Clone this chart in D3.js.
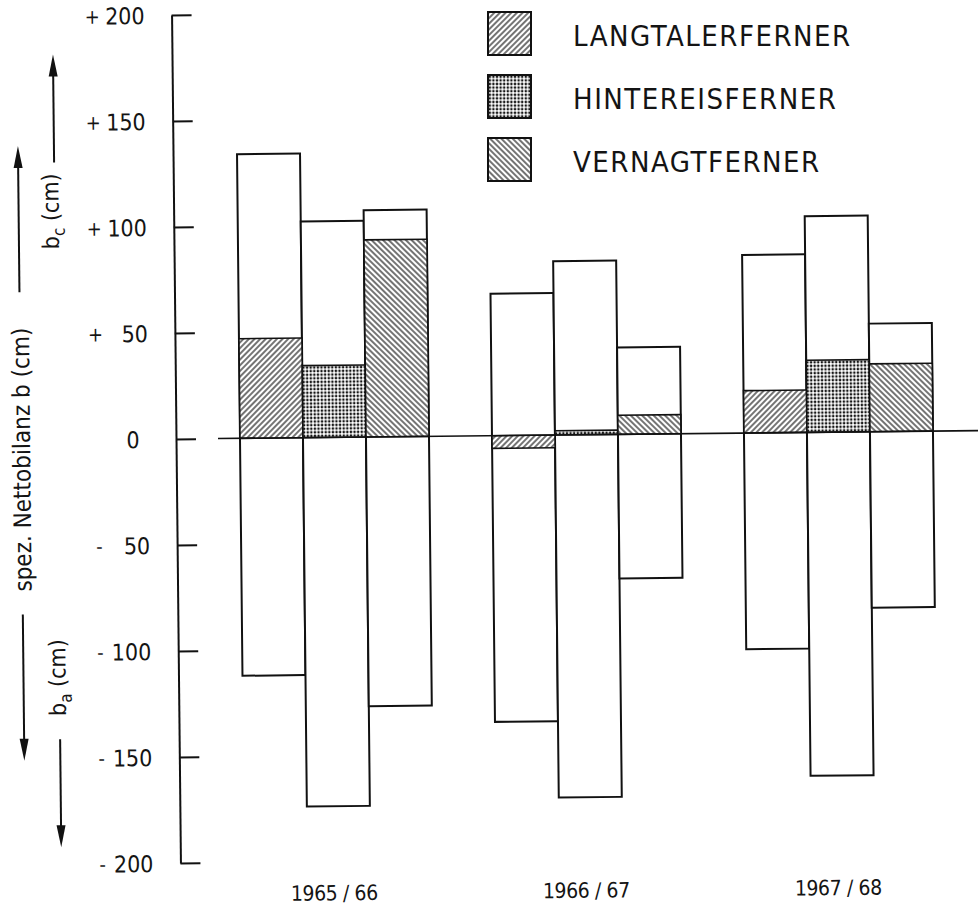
<!DOCTYPE html>
<html>
<head>
<meta charset="utf-8">
<script src="https://cdn.jsdelivr.net/npm/d3@7"></script>
<style>
  body { margin: 0; background: #fff; }
  text { font-family: "DejaVu Sans Condensed", "DejaVu Sans", sans-serif; fill: #141414; }
</style>
</head>
<body>
<div id="chart"></div>
<script>
// data (cm)
const years = ["1965 / 66", "1966 / 67", "1967 / 68"];
const glaciers = ["LANGTALERFERNER", "HINTEREISFERNER", "VERNAGTFERNER"];
// b_c, b_a and net balance b: one row per year, one column per glacier
const bc = [[134, 102, 107], [67, 82, 41], [84, 102, 51]];
const ba = [[-112, -174, -127], [-135, -171, -68], [-102, -162, -83]];
const bNet = [[47, 34, 93], [-6, 2, 9], [20, 34, 32]];
const yTicks = [200, 150, 100, 50, 0, -50, -100, -150, -200];

const rows = years.flatMap((yr, i) => glaciers.map((g, j) => ({
    year: yr, glacier: g, bc: bc[i][j], ba: ba[i][j], b: bNet[i][j]
})));

const svg = d3.select("#chart").append("svg")
    .attr("width", 978)
    .attr("height", 908);

// fill patterns
const defs = svg.append("defs");
const patId = d3.scaleOrdinal().domain(glaciers).range(["hatchL", "dotsH", "hatchV"]);

[["hatchL", 45], ["hatchV", -45]].forEach(([id, angle]) => {
    const p = defs.append("pattern")
        .attr("id", id)
        .attr("patternUnits", "userSpaceOnUse")
        .attr("width", 4).attr("height", 4)
        .attr("patternTransform", `rotate(${angle})`);
    p.append("rect").attr("width", 4).attr("height", 4).attr("fill", "#fff");
    p.append("line").attr("x1", 1).attr("x2", 1).attr("y1", 0).attr("y2", 4)
        .attr("stroke", "#2a2a2a").attr("stroke-width", 1.3);
});
const dots = defs.append("pattern")
    .attr("id", "dotsH")
    .attr("patternUnits", "userSpaceOnUse")
    .attr("width", 3.6).attr("height", 3.6);
dots.append("rect").attr("width", 3.6).attr("height", 3.6).attr("fill", "#fff");
dots.append("circle").attr("cx", 1.8).attr("cy", 1.8).attr("r", 1.3).attr("fill", "#161616");

// the scanned figure sits slightly rotated
const g = svg.append("g").attr("transform", "rotate(-0.6,176,439)");

const x = d3.scaleBand().domain(years).range([240, 933]).paddingInner(0.25);
const xIn = d3.scaleBand().domain(glaciers).range([0, x.bandwidth()]);
const y = d3.scaleLinear().domain([-200, 200]).range([863, 15]);

// y axis with ticks pointing right
const yAxis = d3.axisLeft(y)
    .tickValues(yTicks)
    .tickSizeInner(-20)
    .tickSizeOuter(0)
    .tickPadding(27)
    .tickFormat(d => Math.abs(d));

const ax = g.append("g")
    .attr("transform", "translate(176,0)")
    .call(yAxis);
ax.select(".domain").attr("stroke", "#111").attr("stroke-width", 2);
ax.selectAll(".tick line").attr("stroke", "#111").attr("stroke-width", 2);
ax.selectAll(".tick text")
    .attr("font-size", 23)
    .attr("font-family", "DejaVu Sans Condensed, DejaVu Sans, sans-serif")
    .attr("fill", "#141414")
    .attr("dy", "0.36em");
ax.selectAll(".tick").filter(d => d === 0).select("text")
    .attr("text-anchor", "middle").attr("x", -43);
ax.selectAll(".tick").filter(d => d !== 0).append("text")
    .attr("x", d => d > 0 ? -87 : -81)
    .attr("dy", "0.36em")
    .attr("text-anchor", "start")
    .attr("font-size", 20)
    .attr("fill", "#141414")
    .text(d => d > 0 ? "+" : "-");

// bars: white box from b_a to b_c
g.selectAll("rect.range")
    .data(rows)
    .enter().append("rect")
    .attr("class", "range")
    .attr("x", d => x(d.year) + xIn(d.glacier))
    .attr("width", xIn.bandwidth())
    .attr("y", d => y(d.bc))
    .attr("height", d => y(d.ba) - y(d.bc))
    .attr("fill", "#fff")
    .attr("stroke", "#111")
    .attr("stroke-width", 2);

// net balance, patterned
g.selectAll("rect.net")
    .data(rows)
    .enter().append("rect")
    .attr("class", "net")
    .attr("x", d => x(d.year) + xIn(d.glacier))
    .attr("width", xIn.bandwidth())
    .attr("y", d => y(Math.max(0, d.b)))
    .attr("height", d => Math.abs(y(d.b) - y(0)))
    .attr("fill", d => `url(#${patId(d.glacier)})`)
    .attr("stroke", "#111")
    .attr("stroke-width", 1.6);

// zero line
g.append("line")
    .attr("x1", 218).attr("x2", 990)
    .attr("y1", y(0)).attr("y2", y(0))
    .attr("stroke", "#111").attr("stroke-width", 1.6);

// year labels
g.selectAll("text.year")
    .data(years)
    .enter().append("text")
    .attr("class", "year")
    .attr("x", d => x(d) + x.bandwidth() / 2 - 5)
    .attr("y", 902)
    .attr("text-anchor", "middle")
    .attr("font-size", 21)
    .attr("letter-spacing", -0.4)
    .text(d => d);

// left titles and arrows
function arrow(x0, yFrom, yTo) {
    const dir = yTo < yFrom ? -1 : 1;
    g.append("line")
        .attr("x1", x0).attr("x2", x0)
        .attr("y1", yFrom).attr("y2", yTo - dir * 14)
        .attr("stroke", "#111").attr("stroke-width", 2);
    g.append("path")
        .attr("d", `M${x0},${yTo} L${x0 - 4.5},${yTo - dir * 22} L${x0 + 4.5},${yTo - dir * 22} Z`)
        .attr("fill", "#111");
}
arrow(21, y(70), y(139));
arrow(21, y(-82), y(-151));
arrow(57, y(131), y(182));
arrow(57, y(-141), y(-192));

g.append("text")
    .attr("transform", `translate(30,${y(-9)}) rotate(-90)`)
    .attr("text-anchor", "middle")
    .attr("font-size", 24)
    .text("spez. Nettobilanz b (cm)");

const tc = g.append("text")
    .attr("transform", `translate(61,${y(108)}) rotate(-90)`)
    .attr("text-anchor", "middle")
    .attr("font-size", 23);
tc.append("tspan").text("b");
tc.append("tspan").attr("font-size", 17).attr("dy", 6).text("c");
tc.append("tspan").attr("dy", -6).text(" (cm)");

const ta = g.append("text")
    .attr("transform", `translate(63,${y(-112)}) rotate(-90)`)
    .attr("text-anchor", "middle")
    .attr("font-size", 23);
ta.append("tspan").text("b");
ta.append("tspan").attr("font-size", 17).attr("dy", 6).text("a");
ta.append("tspan").attr("dy", -6).text(" (cm)");

// legend
const leg = svg.append("g").selectAll("g")
    .data(glaciers)
    .enter().append("g")
    .attr("transform", (d, i) => `translate(488,${12 + i * 63})`);
leg.append("rect")
    .attr("width", 43).attr("height", 43)
    .attr("fill", d => `url(#${patId(d)})`)
    .attr("stroke", "#111").attr("stroke-width", 2);
leg.append("text")
    .attr("x", 85)
    .attr("y", 34)
    .attr("font-size", 29)
    .attr("letter-spacing", 1.5)
    .text(d => d);
</script>
</body>
</html>
